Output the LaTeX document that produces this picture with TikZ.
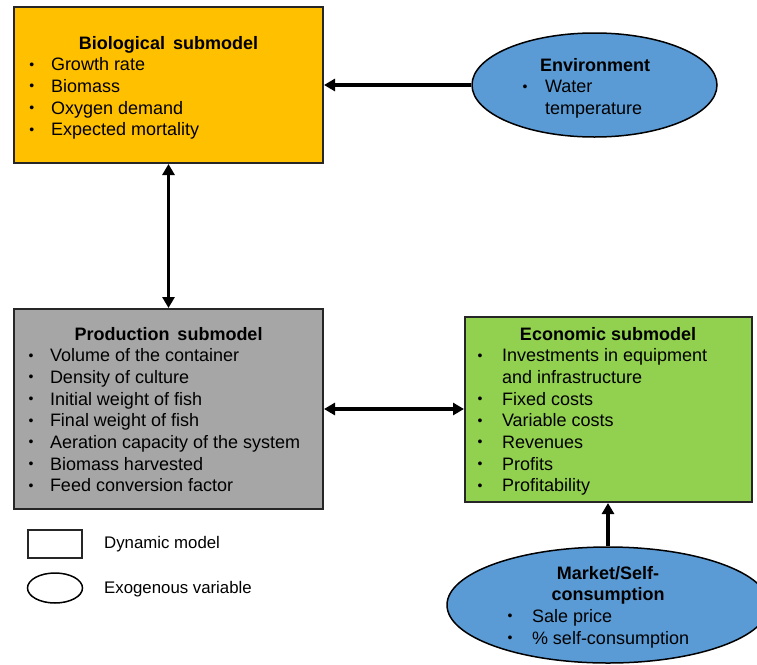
\documentclass[tikz,border=0pt]{standalone}
\usepackage{fontspec}
\setmainfont{Liberation Sans}
\usetikzlibrary{arrows.meta,shapes.geometric}
\definecolor{bioC}{HTML}{FFC000}
\definecolor{envC}{HTML}{5B9BD5}
\definecolor{prodC}{HTML}{A6A6A6}
\definecolor{ecoC}{HTML}{92D050}
\definecolor{lineC}{HTML}{262626}
\newcommand{\bitem}[5]{%
  \node[txt] (#1b) at (#2,#4) {\raisebox{1.6pt}{\fontsize{14}{14}\selectfont •}};
  \node[txt] (#1) at (#3,#4) {#5};}
\begin{document}
\begin{tikzpicture}[x=1pt,y=-1pt,
  font=\fontsize{18}{21.7}\selectfont,
  box/.style={draw=lineC, line width=2pt, rectangle, inner sep=0pt},
  oval/.style={draw=black, line width=1.5pt, ellipse, inner sep=0pt},
  txt/.style={anchor=base west, inner sep=0pt, outer sep=0pt},
  ttl/.style={anchor=base, inner sep=0pt, font=\fontsize{18}{21.7}\selectfont\bfseries},
  arr/.style={line width=3.5pt, -{Triangle[width=12pt,length=11pt]}},
  darr/.style={line width=3.5pt, {Triangle[width=12pt,length=11pt]}-{Triangle[width=12pt,length=11pt]}},
  lg/.style={anchor=base west, inner sep=0pt, font=\fontsize{16.8}{20}\selectfont}]
\clip (0,0) rectangle (757,664);
\fill[white] (0,0) rectangle (757,664);

% boxes
\node[box, fill=bioC, minimum width=309pt, minimum height=156pt] (bio) at (168.5,85) {};
\node[oval, fill=envC, minimum width=245pt, minimum height=104pt] (env) at (594.5,85) {};
\node[box, fill=prodC, minimum width=309pt, minimum height=200pt] (prod) at (168.5,409) {};
\node[box, fill=ecoC, minimum width=287pt, minimum height=185pt] (eco) at (608.5,409.5) {};
\node[oval, fill=envC, minimum width=322pt, minimum height=116pt] (mkt) at (608,605) {};

% biological
\node[ttl] (biot) at (168.5,49) {Biological\, submodel};
\bitem{bio1}{29.25}{51}{70.7}{Growth rate}
\bitem{bio2}{29.25}{51}{92.4}{Biomass}
\bitem{bio3}{29.25}{51}{114.1}{Oxygen demand}
\bitem{bio4}{29.25}{51}{135.8}{Expected mortality}

% environment
\node[ttl] (envt) at (595,71) {Environment};
\bitem{env1}{522.55}{545}{92.7}{Water}
\node[txt] (env2) at (545,114.4) {temperature};

% production
\node[ttl] (prodt) at (168.5,340) {Production\, submodel};
\bitem{pr1}{28.55}{50}{361.7}{Volume of the container}
\bitem{pr2}{28.55}{50}{383.4}{Density of culture}
\bitem{pr3}{28.55}{50}{405.1}{Initial weight of fish}
\bitem{pr4}{28.55}{50}{426.8}{Final weight of fish}
\bitem{pr5}{28.55}{50}{448.5}{Aeration capacity of the system}
\bitem{pr6}{28.55}{50}{470.2}{Biomass harvested}
\bitem{pr7}{28.55}{50}{491.9}{Feed conversion factor}

% economic
\node[ttl] (ecot) at (608,340) {Economic submodel};
\bitem{ec1}{477.55}{502}{361.7}{Investments in equipment}
\node[txt] (ec1a) at (502,383.4) {and infrastructure};
\bitem{ec2}{477.55}{502}{405.1}{Fixed costs}
\bitem{ec3}{477.55}{502}{426.8}{Variable costs}
\bitem{ec4}{477.55}{502}{448.5}{Revenues}
\bitem{ec5}{477.55}{502}{470.2}{Profits}
\bitem{ec6}{477.55}{502}{491.9}{Profitability}

% market
\node[ttl] (mktt1) at (608,579) {Market/Self-};
\node[ttl] (mktt2) at (608,600.7) {consumption};
\bitem{mk1}{507.55}{532}{622.4}{Sale price}
\bitem{mk2}{507.55}{532}{644.1}{\% self-consumption}

% connectors
\draw[arr] (env.west) -- (bio.east |- env.west);
\draw[darr] (bio.south) -- (prod.north);
\draw[darr] (prod.east) -- (prod.east -| eco.west);
\draw[arr] (mkt.north) -- (mkt.north |- eco.south);

% legend
\node[draw=lineC, line width=1.5pt, rectangle, minimum width=54pt, minimum height=28pt, inner sep=0pt] (lgbox) at (55,544) {};
\node[draw=black, line width=1.5pt, ellipse, minimum width=55pt, minimum height=30pt, inner sep=0pt] (lgoval) at (55,588) {};
\node[lg] (lgt1) at (104,548.5) {Dynamic model};
\node[lg] (lgt2) at (104,593) {Exogenous variable};
\end{tikzpicture}
\end{document}
